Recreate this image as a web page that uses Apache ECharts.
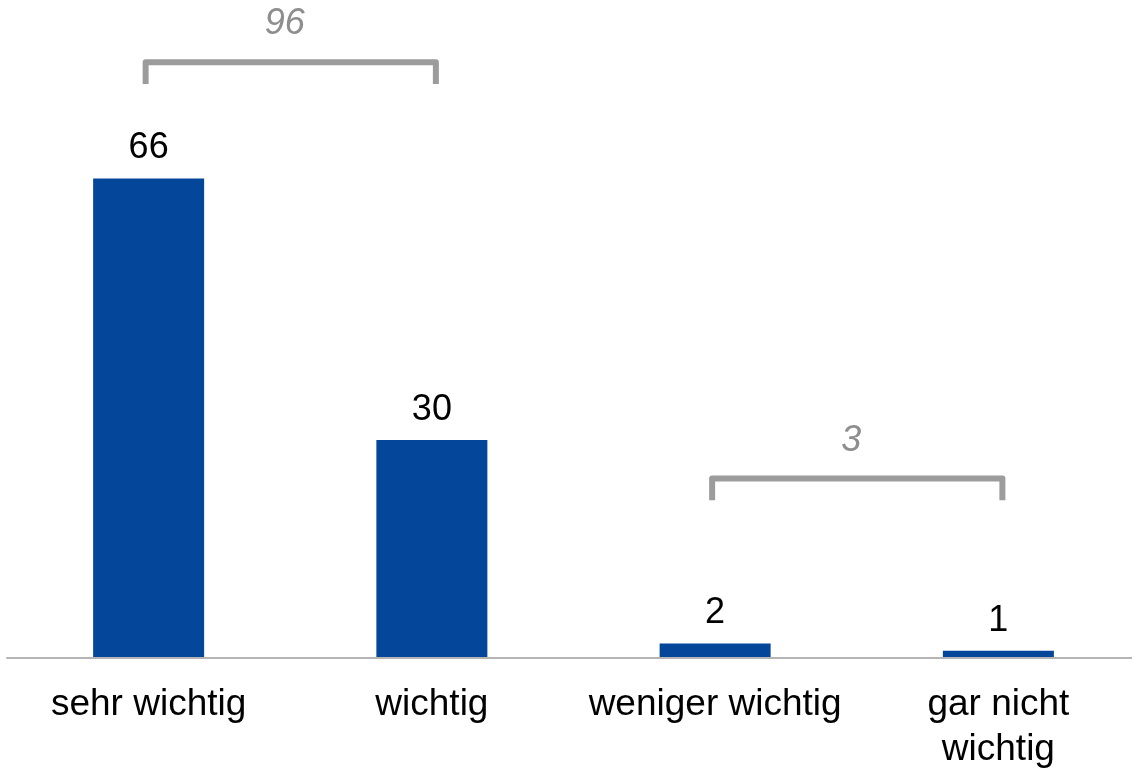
<!DOCTYPE html>
<html>
<head>
<meta charset="utf-8">
<script src="https://cdn.jsdelivr.net/npm/echarts@6/dist/echarts.min.js"></script>
<style>
html,body{margin:0;padding:0;background:#fff;overflow:hidden;width:1132px;height:772px;}
#chart{width:1140px;height:772px;}
</style>
</head>
<body>
<div id="chart"></div>
<script>
// ---- data ----
const categories = ['sehr wichtig', 'wichtig', 'weniger wichtig', 'gar nicht\nwichtig'];
const values = [66, 30, 2, 1];
const bracketFrom = [0, 2];
const bracketTo = [1, 3];
const bracketLabels = ['96', '3'];

// ---- drawing ----
const bracketLevel = [82, 24.7]; // y level (value units) of bracket bars
const chart = echarts.init(document.getElementById('chart'));
const FONT = '"Liberation Sans", Arial, Helvetica, sans-serif';

chart.setOption({
  animation: false,
  backgroundColor: '#ffffff',
  grid: { left: 7, right: 0, top: 4, bottom: 114, containLabel: false },
  xAxis: {
    type: 'category',
    data: categories,
    axisLine: { show: true, lineStyle: { color: '#b4b4b4', width: 2 } },
    axisTick: { show: false },
    axisLabel: {
      interval: 0,
      color: '#000',
      fontFamily: FONT,
      fontSize: 37,
      lineHeight: 45,
      margin: 24
    },
    z: 5
  },
  yAxis: {
    type: 'value',
    min: 0,
    max: 90,
    show: false,
    splitLine: { show: false }
  },
  series: [
    {
      type: 'bar',
      data: values,
      barWidth: 111,
      itemStyle: { color: '#03469a' },
      label: {
        show: true,
        position: 'top',
        distance: 12,
        color: '#000',
        fontFamily: FONT,
        fontSize: 36
      }
    },
    {
      type: 'custom',
      data: bracketFrom.map((f, i) => [f, bracketTo[i], bracketLevel[i]]),
      encode: { x: 0, y: 2 },
      z: 10,
      renderItem: function (params, api) {
        const i = params.dataIndex;
        const lv = api.value(2);
        const pL = api.coord([api.value(0), lv]);
        const pR = api.coord([api.value(1), lv]);
        const leg = api.size([0, 3])[1];
        const x1 = pL[0] - 3, x2 = pR[0] + 4, y = pL[1];
        return {
          type: 'group',
          children: [
            {
              type: 'polyline',
              shape: { points: [[x1, y + leg], [x1, y], [x2, y], [x2, y + leg]] },
              style: { stroke: '#9c9c9c', lineWidth: 6, fill: null, lineJoin: 'round', lineCap: 'butt' }
            },
            {
              type: 'text',
              style: {
                x: (x1 + x2) / 2 - 6,
                y: y - 38,
                text: bracketLabels[i],
                fill: '#8e8e8e',
                font: 'italic 36px ' + FONT,
                align: 'center',
                verticalAlign: 'middle'
              }
            }
          ]
        };
      }
    }
  ]
});
</script>
</body>
</html>
